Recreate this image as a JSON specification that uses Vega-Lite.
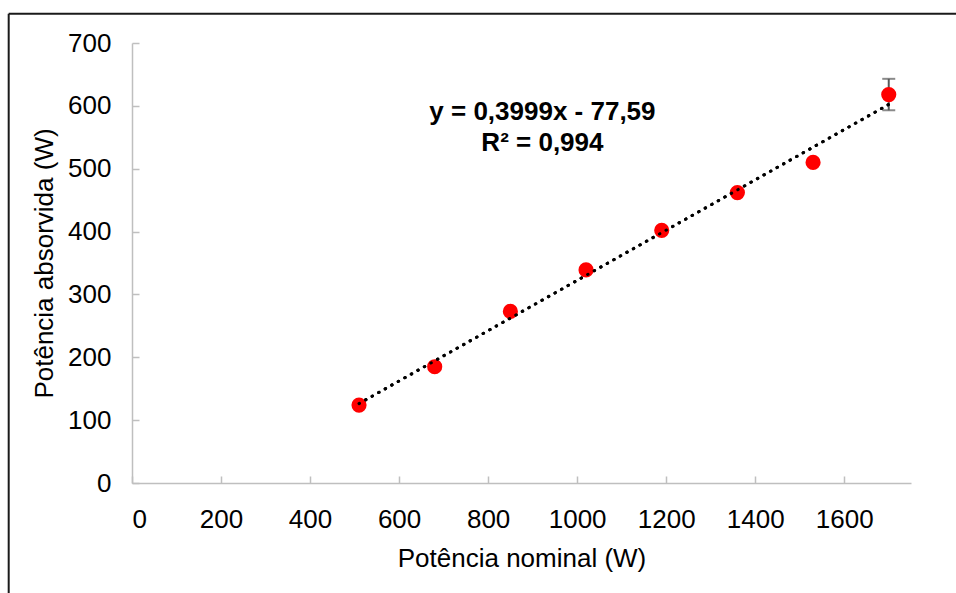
{
  "$schema": "https://vega.github.io/schema/vega-lite/v6.json",
  "width": 779,
  "height": 440,
  "autosize": "none",
  "padding": {"left": 132, "top": 43, "right": 45, "bottom": 110},
  "background": "white",
  "config": {
    "view": {"stroke": null},
    "font": "Liberation Sans",
    "axis": {
      "grid": false,
      "domainColor": "#bfbfbf",
      "domainWidth": 1.5,
      "tickColor": "#bfbfbf",
      "tickWidth": 1.5,
      "tickSize": -7,
      "labelFont": "Liberation Sans",
      "labelFontSize": 26,
      "labelColor": "#000000",
      "titleFont": "Liberation Sans",
      "titleFontSize": 26,
      "titleFontWeight": "normal",
      "titleColor": "#000000"
    }
  },
  "datasets": {
    "points": [
      {"nominal": 510, "absorvida": 124},
      {"nominal": 680, "absorvida": 185},
      {"nominal": 850, "absorvida": 273},
      {"nominal": 1020, "absorvida": 339},
      {"nominal": 1190, "absorvida": 402},
      {"nominal": 1360, "absorvida": 462},
      {"nominal": 1530, "absorvida": 510},
      {"nominal": 1700, "absorvida": 618}
    ],
    "trend": [
      {"nominal": 510, "absorvida": 126.36},
      {"nominal": 1700, "absorvida": 602.24}
    ],
    "errors": [
      {"nominal": 1700, "lo": 593, "hi": 643}
    ],
    "one": [{}]
  },
  "layer": [
    {
      "data": {"name": "one"},
      "mark": {"type": "rule", "color": "#1a1a1a", "strokeWidth": 2},
      "encoding": {
        "x": {"datum": -277, "type": "quantitative"},
        "x2": {"datum": 1860},
        "y": {"datum": 746.6, "type": "quantitative"}
      }
    },
    {
      "data": {"name": "one"},
      "mark": {"type": "rule", "color": "#1a1a1a", "strokeWidth": 2},
      "encoding": {
        "x": {"datum": -277, "type": "quantitative"},
        "y": {"datum": 746.6, "type": "quantitative"},
        "y2": {"datum": -200}
      }
    },
    {
      "data": {"name": "trend"},
      "mark": {"type": "line", "color": "#000000", "strokeWidth": 3, "strokeCap": "round", "strokeDash": [0.5, 7]},
      "encoding": {
        "x": {
          "field": "nominal", "type": "quantitative",
          "scale": {"domain": [0, 1750], "nice": false, "zero": true},
          "axis": {"title": "Potência nominal (W)", "format": "d", "values": [0, 200, 400, 600, 800, 1000, 1200, 1400, 1600], "labelPadding": 30, "titlePadding": 13}
        },
        "y": {
          "field": "absorvida", "type": "quantitative",
          "scale": {"domain": [0, 700], "nice": false},
          "axis": {"title": "Potência absorvida (W)", "format": "d", "values": [0, 100, 200, 300, 400, 500, 600, 700], "labelPadding": 28, "titlePadding": 10}
        }
      }
    },
    {
      "data": {"name": "errors"},
      "mark": {"type": "rule", "color": "#595959", "strokeWidth": 2},
      "encoding": {
        "x": {"field": "nominal", "type": "quantitative"},
        "y": {"field": "lo", "type": "quantitative"},
        "y2": {"field": "hi"}
      }
    },
    {
      "data": {"name": "errors"},
      "mark": {"type": "tick", "color": "#595959", "orient": "horizontal", "size": 13, "thickness": 2},
      "encoding": {
        "x": {"field": "nominal", "type": "quantitative"},
        "y": {"field": "lo", "type": "quantitative"}
      }
    },
    {
      "data": {"name": "errors"},
      "mark": {"type": "tick", "color": "#595959", "orient": "horizontal", "size": 13, "thickness": 2},
      "encoding": {
        "x": {"field": "nominal", "type": "quantitative"},
        "y": {"field": "hi", "type": "quantitative"}
      }
    },
    {
      "data": {"name": "points"},
      "mark": {"type": "point", "filled": true, "color": "#ff0000", "opacity": 1, "size": 230},
      "encoding": {
        "x": {"field": "nominal", "type": "quantitative"},
        "y": {"field": "absorvida", "type": "quantitative"}
      }
    },
    {
      "data": {"name": "trend"},
      "mark": {"type": "line", "color": "#000000", "strokeWidth": 3, "strokeCap": "round", "strokeDash": [0.5, 7]},
      "encoding": {
        "x": {"field": "nominal", "type": "quantitative"},
        "y": {"field": "absorvida", "type": "quantitative"}
      }
    },
    {
      "data": {"name": "one"},
      "mark": {"type": "text", "font": "Liberation Sans", "fontSize": 26, "fontWeight": "bold", "color": "#000000", "align": "center", "baseline": "middle"},
      "encoding": {
        "x": {"datum": 922, "type": "quantitative"},
        "y": {"datum": 590.7, "type": "quantitative"},
        "text": {"value": "y = 0,3999x - 77,59"}
      }
    },
    {
      "data": {"name": "one"},
      "mark": {"type": "text", "font": "Liberation Sans", "fontSize": 26, "fontWeight": "bold", "color": "#000000", "align": "center", "baseline": "middle"},
      "encoding": {
        "x": {"datum": 922, "type": "quantitative"},
        "y": {"datum": 541.7, "type": "quantitative"},
        "text": {"value": "R² = 0,994"}
      }
    }
  ]
}
